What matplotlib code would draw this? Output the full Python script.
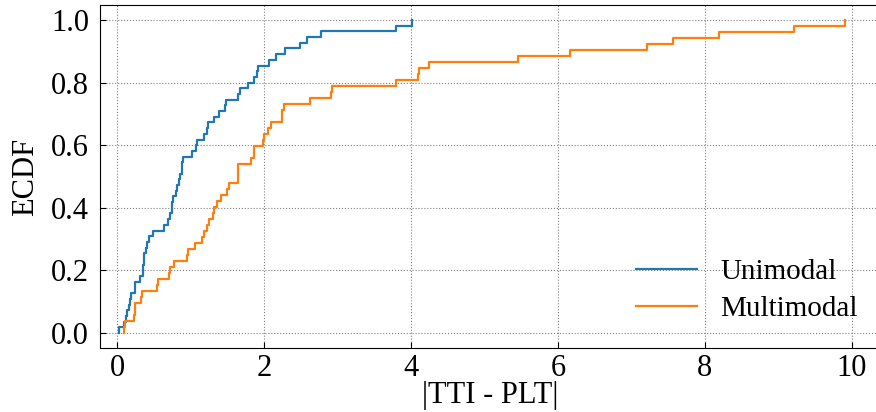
import numpy as np
from matplotlib import pyplot as plt

plt.rcParams['font.family'] = ['Liberation Serif', 'DejaVu Serif']

# |TTI - PLT| samples per page type
unimodal = [0.03, 0.095, 0.12, 0.13, 0.17, 0.18, 0.19, 0.24, 0.25, 0.32,
            0.35, 0.36, 0.37, 0.37, 0.40, 0.41, 0.44, 0.49, 0.64, 0.70,
            0.72, 0.75, 0.75, 0.76, 0.80, 0.81, 0.85, 0.86, 0.88, 0.89,
            0.90, 1.02, 1.08, 1.09, 1.18, 1.22, 1.24, 1.32, 1.39, 1.47,
            1.48, 1.65, 1.67, 1.78, 1.86, 1.90, 1.92, 2.07, 2.17, 2.28,
            2.49, 2.59, 2.77, 3.80, 4.02]
multimodal = [0.10, 0.11, 0.23, 0.24, 0.25, 0.33, 0.34, 0.55, 0.56, 0.71,
              0.72, 0.77, 0.95, 0.96, 1.06, 1.15, 1.18, 1.22, 1.25, 1.31,
              1.32, 1.36, 1.41, 1.50, 1.53, 1.64, 1.65, 1.65, 1.83, 1.86,
              1.87, 1.98, 2.00, 2.05, 2.09, 2.25, 2.25, 2.27, 2.63, 2.91,
              2.92, 3.79, 4.09, 4.11, 4.25, 5.46, 6.16, 7.21, 7.57, 8.19,
              9.21, 9.90]

x_ticks = [0, 2, 4, 6, 8, 10]
y_ticks = [0.0, 0.2, 0.4, 0.6, 0.8, 1.0]


def ecdf(valores):
    v = np.sort(np.asarray(valores))
    n = len(v)
    x = np.r_[v[0], v]
    y = np.r_[0, np.arange(1, n + 1) / n]
    return x, y


fig = plt.figure(figsize=(8.76, 4.12), dpi=100)
ax = fig.add_axes([100 / 876, 64 / 412, 780 / 876, 343 / 412])

for dados, cor, nome in [(unimodal, '#1f77b4', 'Unimodal'),
                         (multimodal, '#ff7f0e', 'Multimodal')]:
    x, y = ecdf(dados)
    ax.step(x, y, where='post', color=cor, linewidth=1.6, label=nome)

ax.set_xlim(-0.231, 10.381)
ax.set_ylim(-0.048, 1.048)
ax.set_xticks(x_ticks)
ax.set_yticks(y_ticks)
ax.set_yticklabels(['%.1f' % t for t in y_ticks])
ax.tick_params(direction='in', length=4, labelsize=22, pad=4)
ax.tick_params(axis='y', pad=8)
ax.grid(True, linestyle=':', color='gray', linewidth=0.8)
ax.spines['right'].set_visible(False)
ax.set_xlabel('|TTI - PLT|', fontsize=22, labelpad=-1)
ax.set_ylabel('ECDF', fontsize=22, labelpad=8)
ax.legend(loc='lower right', frameon=False, fontsize=21, handlelength=2.1,
          handletextpad=0.8, labelspacing=0.35, bbox_to_anchor=(1.005, 0.0))

fig.savefig('out.png', dpi=100)
